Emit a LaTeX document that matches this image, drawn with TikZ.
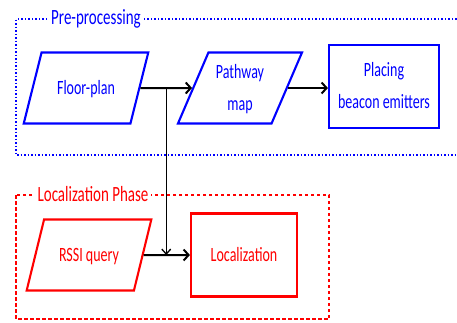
\documentclass[tikz,border=0pt]{standalone}
\usepackage{fontspec}
\setmainfont{Carlito}
\usetikzlibrary{shapes.geometric,arrows.meta,calc}
\newcommand{\tall}[1]{\scalebox{1}[1.45]{\begin{tabular}{@{}c@{}}#1\end{tabular}}}

\begin{document}
\begin{tikzpicture}[x=1pt,y=-1pt,
  para/.style={trapezium, trapezium left angle=70, trapezium right angle=110,
    trapezium stretches=true, draw, line width=2.1pt, minimum width=125pt,
    minimum height=71pt, inner sep=0pt, font=\fontsize{14}{22}\selectfont},
  proc/.style={rectangle, draw, line width=2.1pt, inner sep=0pt,
    font=\fontsize{14}{22}\selectfont},
  flow/.style={line width=2pt, -{Straight Barb[length=5pt,width=11pt]}},
  phase/.style={fill=white, inner xsep=3pt, inner ysep=0pt, font=\fontsize{15}{18}\selectfont}]
\useasboundingbox (0,0) rectangle (457,322);
\draw[blue, line width=1.3pt, dash pattern=on 1.5pt off 2pt] (460,19) -- (16,19) -- (16,155) -- (460,155);
\draw[red, line width=1.2pt, dash pattern=on 3.5pt off 2.5pt] (16,195) rectangle (329,319);
\node[phase, text=blue] (pretitle) at (96,19) {\tall{Pre-processing}};
\node[phase, text=red] (loctitle) at (93,196) {\tall{Localization Phase}};
\node[para, blue] (floor) at (86,88) {\tall{Floor-plan}};
\node[para, blue] (path) at (240,88) {\tall{Pathway\\map}};
\node[proc, blue, minimum width=110pt, minimum height=83pt] (place) at (384,86.5) {\tall{Placing\\beacon emitters}};
\node[para, red] (query) at (89,255) {\tall{RSSI query}};
\node[proc, red, minimum width=106pt, minimum height=83pt] (loc) at (244,255) {\tall{Localization}};
\draw[flow] (floor.east) -- (path.west);
\draw[flow] (path.east) -- (path.east -| place.west);
\draw[flow] (query.east) -- (loc.west);
\coordinate (split) at ($(floor.east)!0.5!(path.west)$);
\draw[line width=1.3pt, -{Straight Barb[length=5pt,width=9pt]}] (split) -- (split |- loc.west);
\end{tikzpicture}
\end{document}
